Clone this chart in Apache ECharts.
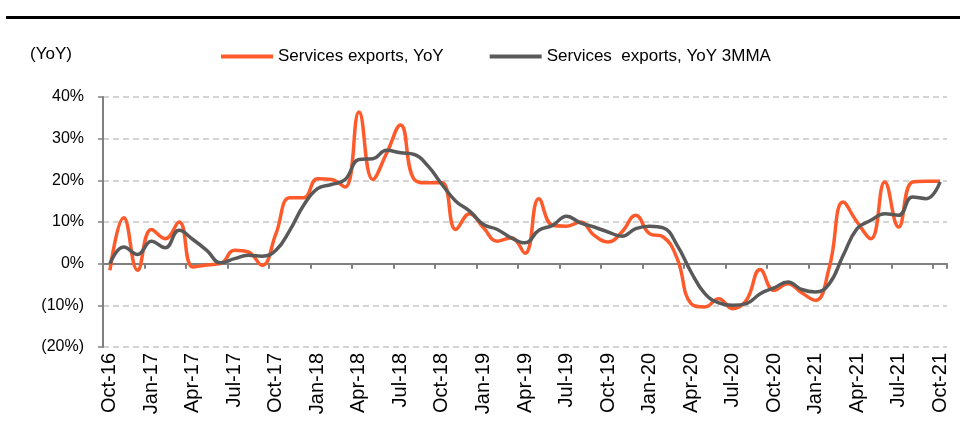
<!DOCTYPE html>
<html>
<head>
<meta charset="utf-8">
<script src="https://cdn.jsdelivr.net/npm/echarts@6/dist/echarts.min.js"></script>
<style>
  html, body { margin: 0; padding: 0; background: #fff; }
  #chart { width: 960px; height: 424px; }
</style>
</head>
<body>
<div id="chart"></div>
<script>
// Monthly categories, Oct-16 .. Oct-21
const months = [
  'Oct-16','Nov-16','Dec-16','Jan-17','Feb-17','Mar-17','Apr-17','May-17','Jun-17','Jul-17','Aug-17','Sep-17',
  'Oct-17','Nov-17','Dec-17','Jan-18','Feb-18','Mar-18','Apr-18','May-18','Jun-18','Jul-18','Aug-18','Sep-18',
  'Oct-18','Nov-18','Dec-18','Jan-19','Feb-19','Mar-19','Apr-19','May-19','Jun-19','Jul-19','Aug-19','Sep-19',
  'Oct-19','Nov-19','Dec-19','Jan-20','Feb-20','Mar-20','Apr-20','May-20','Jun-20','Jul-20','Aug-20','Sep-20',
  'Oct-20','Nov-20','Dec-20','Jan-21','Feb-21','Mar-21','Apr-21','May-21','Jun-21','Jul-21','Aug-21','Sep-21',
  'Oct-21'
];

// Services exports, YoY (%)
const exportsYoY = [
  -1.6, 11.0, -1.6, 8.2, 6.0, 10.0, -0.8, -0.3, 0.0, 3.2, 2.8, -0.4,
  7.2, 15.8, 15.8, 20.4, 20.2, 18.4, 36.4, 20.2, 26.5, 33.3, 20.2, 19.4,
  19.4, 8.2, 12.0, 8.6, 5.4, 6.2, 2.5, 15.6, 9.2, 9.0, 10.0, 6.8,
  5.2, 7.6, 11.6, 7.2, 6.4, 1.2, -9.6, -10.4, -8.4, -10.8, -8.8, -1.4,
  -6.4, -4.8, -7.0, -8.8, -0.8, 14.8, 10.0, 6.0, 19.6, 8.8, 19.6, 19.8,
  19.8
];

// Services exports, YoY 3-month moving average (%)
const exportsYoY3MMA = [
  0.0, 4.0, 2.2, 5.4, 3.8, 8.0, 5.8, 3.2, 0.2, 1.2, 2.0, 1.8,
  3.2, 8.0, 14.0, 18.0, 19.0, 20.2, 25.0, 25.2, 27.2, 26.6, 26.2, 23.4,
  19.0, 15.0, 12.6, 9.4, 8.2, 6.2, 5.0, 8.0, 9.2, 11.4, 9.8, 8.8,
  7.6, 6.6, 8.4, 9.0, 8.6, 4.4, -2.0, -7.2, -9.4, -10.0, -9.6, -7.2,
  -5.8, -4.4, -6.2, -6.8, -4.8, 2.0, 8.4, 10.4, 12.0, 11.6, 16.0, 15.6,
  19.6
];

const seriesNames = ['Services exports, YoY', 'Services  exports, YoY 3MMA'];
const unitLabel = '(YoY)';

const sans = '"Liberation Sans", Arial, sans-serif';

const chart = echarts.init(document.getElementById('chart'), null, { renderer: 'canvas' });

chart.setOption({
  animation: false,
  backgroundColor: '#fff',
  grid: { left: 103, right: 13, top: 97, bottom: 77, containLabel: false },
  graphic: [
    { type: 'rect', shape: { x: 6, y: 16, width: 954, height: 3 }, style: { fill: '#000' } },
    { type: 'text', left: 30, top: 46, style: { text: unitLabel, font: '17px ' + sans, fill: '#000' } }
  ],
  legend: {
    left: 216, top: 43,
    itemWidth: 52, itemHeight: 4, itemGap: 46,
    icon: 'rect',
    textStyle: { fontFamily: sans, fontSize: 17, color: '#000' },
    data: seriesNames
  },
  xAxis: [
    {
      type: 'category', data: months, boundaryGap: true,
      axisLine: { onZero: true, lineStyle: { color: '#808080', width: 2 } },
      axisTick: { show: true, interval: 2, length: 5, lineStyle: { color: '#808080', width: 2 } },
      axisLabel: { show: false },
      splitLine: { show: false }
    },
    {
      type: 'category', data: months, boundaryGap: true, position: 'bottom',
      axisLine: { show: false, onZero: false },
      axisTick: { show: false },
      axisLabel: { interval: 2, rotate: 90, margin: 6, fontFamily: sans, fontSize: 20, color: '#000' },
      splitLine: { show: false }
    }
  ],
  yAxis: {
    type: 'value', min: -20, max: 40, interval: 10,
    axisLine: { show: true, lineStyle: { color: '#808080', width: 2 } },
    axisTick: { show: true, length: 5, lineStyle: { color: '#808080', width: 1.5 } },
    axisLabel: {
      margin: 19, fontFamily: sans, fontSize: 16, color: '#000',
      formatter: v => v < 0 ? '(' + (-v) + '%)' : v + '%'
    },
    splitLine: { show: true, lineStyle: { color: '#d4d4d4', width: 2, type: [6, 4] } }
  },
  series: [
    {
      name: seriesNames[0], type: 'line', data: exportsYoY, xAxisIndex: 0,
      smooth: 0.45, showSymbol: false, symbol: 'none',
      lineStyle: { color: '#FF5A2B', width: 3.5 }, itemStyle: { color: '#FF5A2B' }, z: 2
    },
    {
      name: seriesNames[1], type: 'line', data: exportsYoY3MMA, xAxisIndex: 0,
      smooth: 0.45, showSymbol: false, symbol: 'none',
      lineStyle: { color: '#595959', width: 3.5 }, itemStyle: { color: '#595959' }, z: 3
    }
  ]
});
</script>
</body>
</html>
